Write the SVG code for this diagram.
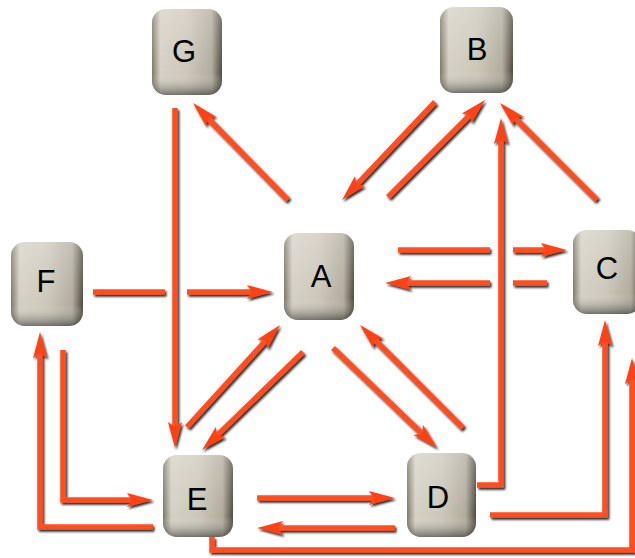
<svg xmlns="http://www.w3.org/2000/svg" width="635" height="558" viewBox="0 0 635 558">
<defs>
<linearGradient id="kh" x1="0" y1="0" x2="1" y2="0">
<stop offset="0" stop-color="#7d776a"/>
<stop offset="0.12" stop-color="#d4d0c4"/>
<stop offset="0.5" stop-color="#ccc7ba"/>
<stop offset="0.85" stop-color="#b0ab9d"/>
<stop offset="1" stop-color="#4f493e"/>
</linearGradient>
<linearGradient id="kv" x1="0" y1="0" x2="0" y2="1">
<stop offset="0" stop-color="#ffffff" stop-opacity="0.25"/>
<stop offset="0.75" stop-color="#ffffff" stop-opacity="0"/>
<stop offset="1" stop-color="#000000" stop-opacity="0.45"/>
</linearGradient>
<filter id="sh" x="-10%" y="-10%" width="120%" height="120%">
<feDropShadow dx="1.5" dy="2" stdDeviation="1.2" flood-color="#000" flood-opacity="0.85"/>
</filter>
<marker id="ah" markerUnits="userSpaceOnUse" markerWidth="27" markerHeight="18" refX="5" refY="9" orient="auto">
<path d="M0,2 L26,9 L0,16 L5,9 Z" fill="#ff4318"/>
</marker>
<style>
.key{fill:url(#kh);}
.keyv{fill:url(#kv);}
.lbl{font-family:"Liberation Sans",Arial,sans-serif;font-size:31px;fill:#000;text-anchor:middle;}
.c{fill:none;stroke:#ff5020;stroke-width:5.5;stroke-linecap:butt;stroke-linejoin:miter;}
.a{marker-end:url(#ah);}
</style>
</defs>
<rect width="635" height="558" fill="#ffffff"/>
<g id="connectors" filter="url(#sh)">
<path class="c a" d="M288,200 L207.7,118"/>
<path class="c a" d="M175,108 L175,427"/>
<path class="c a" d="M435,102 L356.5,184.8"/>
<path class="c a" d="M388,197 L470.2,114.8"/>
<path class="c a" d="M597,200 L514.8,117.8"/>
<path class="c a" d="M477,485 L501,485 L501,139"/>
<path class="c" d="M398,250 L490,250"/>
<path class="c a" d="M513,250 L546,250"/>
<path class="c" d="M547,283 L513,283"/>
<path class="c a" d="M490,283 L406,283"/>
<path class="c" d="M93,292 L165,292"/>
<path class="c a" d="M187,292 L252,292"/>
<path class="c a" d="M187,427 L265.8,340.5"/>
<path class="c a" d="M303,352 L217.1,435.4"/>
<path class="c a" d="M333,348 L421.9,433.4"/>
<path class="c a" d="M463,428 L374.8,339.8"/>
<path class="c a" d="M257,498 L374,498"/>
<path class="c a" d="M395,528 L278,528"/>
<path class="c a" d="M490,515 L605,515 L605,341"/>
<path class="c a" d="M212,537 L212,550 L632,550 L632,379"/>
<path class="c a" d="M153,527 L40,527 L40,353"/>
<path class="c a" d="M63,350 L63,500 L132,500"/>
</g>
<g id="node-G"><rect class="key" x="152" y="9" width="70" height="86" rx="14"/><rect class="keyv" x="152" y="9" width="70" height="86" rx="14"/><text class="lbl" x="184" y="62">G</text></g>
<g id="node-B"><rect class="key" x="440" y="7" width="73" height="86" rx="14"/><rect class="keyv" x="440" y="7" width="73" height="86" rx="14"/><text class="lbl" x="477" y="60">B</text></g>
<g id="node-A"><rect class="key" x="284" y="233" width="70" height="87" rx="14"/><rect class="keyv" x="284" y="233" width="70" height="87" rx="14"/><text class="lbl" x="321" y="287">A</text></g>
<g id="node-F"><rect class="key" x="11" y="242" width="72" height="84" rx="14"/><rect class="keyv" x="11" y="242" width="72" height="84" rx="14"/><text class="lbl" x="46" y="292">F</text></g>
<g id="node-C"><rect class="key" x="573" y="230" width="68" height="84" rx="14"/><rect class="keyv" x="573" y="230" width="68" height="84" rx="14"/><text class="lbl" x="607" y="279">C</text></g>
<g id="node-E"><rect class="key" x="163" y="455" width="70" height="82" rx="14"/><rect class="keyv" x="163" y="455" width="70" height="82" rx="14"/><text class="lbl" x="197" y="510">E</text></g>
<g id="node-D"><rect class="key" x="407" y="453" width="69" height="84" rx="14"/><rect class="keyv" x="407" y="453" width="69" height="84" rx="14"/><text class="lbl" x="438" y="508">D</text></g>
</svg>
